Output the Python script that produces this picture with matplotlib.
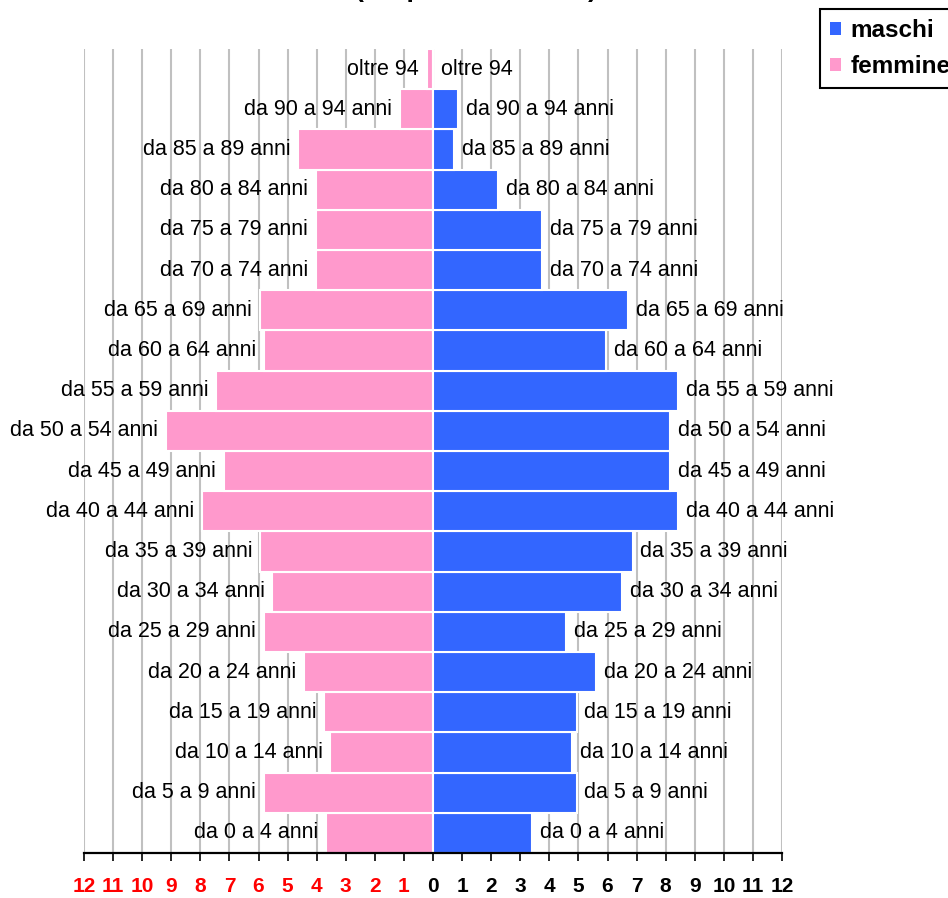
import matplotlib
matplotlib.use("Agg")
import matplotlib.pyplot as plt
from matplotlib.patches import Patch

plt.rcParams['font.family'] = ['Liberation Sans', 'DejaVu Sans']

# classi di eta, dal basso verso l'alto
classi = ["da 0 a 4 anni", "da 5 a 9 anni", "da 10 a 14 anni", "da 15 a 19 anni",
          "da 20 a 24 anni", "da 25 a 29 anni", "da 30 a 34 anni", "da 35 a 39 anni",
          "da 40 a 44 anni", "da 45 a 49 anni", "da 50 a 54 anni", "da 55 a 59 anni",
          "da 60 a 64 anni", "da 65 a 69 anni", "da 70 a 74 anni", "da 75 a 79 anni",
          "da 80 a 84 anni", "da 85 a 89 anni", "da 90 a 94 anni", "oltre 94"]

# percentuali
maschi = [3.42, 4.94, 4.79, 4.94, 5.61, 4.58, 6.50, 6.86, 8.43, 8.16,
          8.16, 8.43, 5.96, 6.72, 3.76, 3.76, 2.24, 0.72, 0.86, 0.0]
femmine = [3.69, 5.82, 3.53, 3.75, 4.45, 5.82, 5.53, 5.95, 7.94, 7.20,
           9.18, 7.46, 5.82, 5.95, 4.03, 4.03, 4.03, 4.64, 1.13, 0.22]

tick_vals = list(range(-12, 13))

col_m = '#3366FF'
col_f = '#FF99CC'

fig = plt.figure(figsize=(9.48, 8.98), dpi=100)
ax = fig.add_axes([84/948, 45/898, 698/948, 804/898])

y = list(range(len(classi)))
ax.barh(y, [-v for v in femmine], height=1.0, color=col_f, edgecolor='white', linewidth=1.5)
ax.barh(y, maschi, height=1.0, color=col_m, edgecolor='white', linewidth=1.5)

for i in y:
    ax.annotate(classi[i], xy=(-femmine[i], i), xytext=(-5.5, 0), textcoords='offset points',
                ha='right', va='center', fontsize=15.5)
    ax.annotate(classi[i], xy=(maschi[i], i), xytext=(5.5, 0), textcoords='offset points',
                ha='left', va='center', fontsize=15.5)

ax.set_xlim(-12, 12)
ax.set_ylim(-0.5, len(classi) - 0.5)
ax.set_axisbelow(True)
ax.xaxis.grid(True, color='#C0C0C0', linewidth=1.5)
ax.set_yticks([])
ax.set_xticks(tick_vals)
ax.set_xticklabels([str(abs(v)) for v in tick_vals], fontsize=15, fontweight='bold')
for v, lab in zip(tick_vals, ax.get_xticklabels()):
    lab.set_color('red' if v < 0 else 'black')
ax.tick_params(axis='x', length=6, width=1.2, pad=11, direction='out')

for s in ['left', 'right', 'top']:
    ax.spines[s].set_visible(False)
ax.spines['bottom'].set_linewidth(1.6)

# titolo tagliato in alto (come nell'originale)
fig.text(476/948, 1 + 2.5/898, "(frequenze relative)", ha='center', va='baseline',
         fontsize=19, fontweight='bold')

handles = [Patch(facecolor=col_m, edgecolor='none'), Patch(facecolor=col_f, edgecolor='none')]
leg = fig.legend(handles, ['maschi', 'femmine'], loc='upper left',
                 bbox_to_anchor=(820/948, 1 - 9/898), frameon=True, fancybox=False,
                 edgecolor='black', borderpad=0.4, labelspacing=0.55, handlelength=0.45,
                 handleheight=0.45, handletextpad=0.4, borderaxespad=0,
                 prop={'size': 17.5, 'weight': 'bold'})
leg.get_frame().set_linewidth(1.5)
leg.get_frame().set_alpha(1)

fig.savefig('out.png', dpi=100)
